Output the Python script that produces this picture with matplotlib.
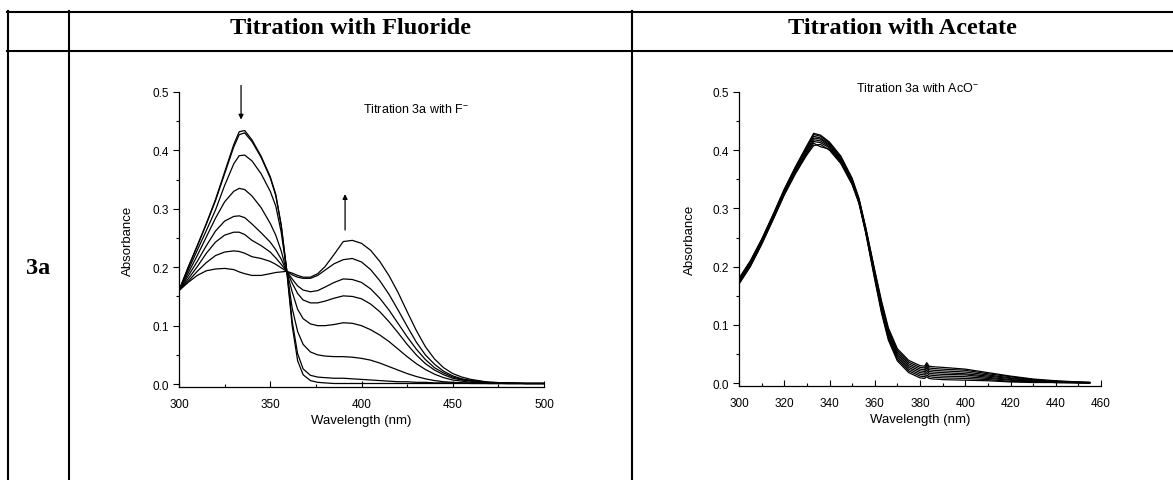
import numpy as np
import matplotlib
matplotlib.use("Agg")
import matplotlib.pyplot as plt
from matplotlib.lines import Line2D
from matplotlib.ticker import MultipleLocator

plt.rcParams["font.family"] = ["Liberation Sans", "DejaVu Sans"]
plt.rcParams["mathtext.fontset"] = "custom"
plt.rcParams["mathtext.rm"] = "Liberation Sans"
plt.rcParams["mathtext.it"] = "Liberation Sans"

# ---------------- data: titration with fluoride ----------------
wl_f = [300, 305, 310, 315, 320, 325, 330, 333, 336, 340, 345, 350, 353, 356, 359,
        362, 365, 368, 372, 376, 380, 385, 390, 395, 400, 405, 410, 415, 420, 425,
        430, 435, 440, 445, 450, 455, 460, 470, 480, 490, 500]

fluoride_0 = [.160, .200, .237, .275, .316, .363, .410, .432, .434, .418, .390, .355, .325, .272, .195,
              .100, .040, .016, .006, .003, .002, .001, .001, .001, .001, .001, .001, .001, .001, .001,
              .001, .001, .001, .001, .001, .001, .001, .001, .001, .001, .001]
fluoride_1 = [.160, .199, .236, .274, .314, .360, .406, .427, .430, .415, .388, .353, .323, .272, .196,
              .108, .052, .026, .015, .012, .011, .010, .010, .009, .008, .007, .006, .005, .004, .004,
              .003, .003, .002, .002, .002, .002, .001, .001, .001, .001, .001]
fluoride_2 = [.160, .195, .229, .263, .298, .340, .377, .391, .392, .382, .360, .330, .305, .260, .195,
              .130, .090, .068, .055, .050, .048, .047, .047, .046, .044, .041, .036, .030, .024, .018,
              .013, .009, .006, .004, .003, .002, .002, .001, .001, .001, .001]
fluoride_3 = [.160, .190, .220, .252, .284, .312, .330, .335, .333, .322, .302, .275, .255, .228, .193,
              .158, .128, .112, .103, .100, .100, .102, .105, .104, .100, .093, .084, .073, .060, .047,
              .035, .025, .017, .011, .007, .005, .003, .002, .001, .001, .001]
fluoride_4 = [.160, .185, .210, .237, .262, .279, .287, .288, .285, .274, .259, .243, .230, .214, .193,
              .173, .155, .144, .139, .139, .142, .147, .151, .150, .146, .137, .124, .107, .088, .068,
              .050, .035, .024, .016, .010, .007, .005, .002, .001, .001, .001]
fluoride_5 = [.160, .180, .201, .224, .243, .255, .260, .260, .256, .246, .237, .226, .216, .205, .193,
              .180, .168, .161, .158, .160, .166, .174, .180, .179, .174, .163, .147, .127, .104, .081,
              .060, .042, .028, .019, .012, .008, .006, .003, .002, .001, .001]
fluoride_6 = [.160, .176, .193, .208, .220, .226, .228, .227, .224, .218, .215, .210, .205, .199, .193,
              .187, .183, .181, .181, .186, .195, .206, .213, .215, .209, .196, .177, .154, .127, .099,
              .072, .050, .034, .022, .014, .009, .006, .003, .002, .001, .001]
fluoride_7 = [.160, .174, .186, .194, .197, .198, .196, .192, .189, .186, .186, .189, .191, .192, .193,
              .190, .186, .183, .183, .189, .201, .222, .244, .246, .241, .229, .210, .186, .157, .124,
              .092, .064, .043, .028, .018, .012, .008, .003, .002, .001, .001]

fluoride_series = [fluoride_0, fluoride_1, fluoride_2, fluoride_3,
                   fluoride_4, fluoride_5, fluoride_6, fluoride_7]

# ---------------- data: titration with acetate ----------------
wl_a = [300, 305, 310, 315, 320, 325, 330, 333, 336, 340, 345, 350, 353, 356, 360, 363,
        366, 370, 375, 380, 382, 383, 384, 386, 390, 400, 410, 420, 430, 440, 450, 455]

acetate_0 = [.170, .200, .238, .280, .323, .360, .392, .408, .410, .400, .377, .341, .309, .258, .178, .120,
             .074, .038, .018, .009, .008, .011, .008, .007, .006, .005, .004, .002, .001, .001, .000, .000]
acetate_1 = [.171, .201, .239, .281, .324, .361, .394, .412, .406, .402, .379, .342, .310, .259, .180, .123,
             .077, .041, .021, .012, .011, .014, .011, .010, .009, .008, .006, .003, .002, .001, .001, .000]
acetate_2 = [.173, .203, .241, .283, .326, .363, .396, .415, .413, .404, .381, .344, .311, .261, .183, .126,
             .080, .044, .024, .015, .014, .018, .014, .013, .012, .011, .008, .005, .003, .001, .001, .000]
acetate_3 = [.174, .204, .242, .284, .327, .365, .399, .418, .416, .406, .382, .345, .312, .262, .185, .129,
             .083, .047, .027, .018, .017, .022, .017, .016, .015, .014, .010, .006, .003, .002, .001, .001]
acetate_4 = [.176, .206, .244, .286, .329, .367, .401, .421, .419, .408, .384, .347, .314, .264, .188, .132,
             .086, .050, .030, .021, .020, .026, .020, .019, .018, .016, .012, .008, .004, .002, .001, .001]
acetate_5 = [.177, .207, .245, .287, .331, .369, .404, .424, .421, .410, .386, .348, .315, .265, .190, .135,
             .089, .053, .033, .024, .023, .029, .023, .022, .021, .019, .014, .009, .005, .003, .001, .001]
acetate_6 = [.179, .209, .246, .288, .332, .371, .406, .427, .424, .412, .388, .350, .316, .266, .192, .138,
             .092, .056, .036, .027, .026, .032, .026, .025, .024, .022, .016, .011, .006, .003, .002, .001]
acetate_7 = [.180, .210, .247, .289, .333, .372, .408, .429, .426, .414, .390, .352, .318, .268, .194, .141,
             .095, .059, .039, .030, .029, .035, .029, .028, .027, .024, .018, .012, .007, .004, .002, .001]

acetate_series = [acetate_0, acetate_1, acetate_2, acetate_3,
                  acetate_4, acetate_5, acetate_6, acetate_7]

W, H = 1173, 481
fig = plt.figure(figsize=(W / 100, H / 100), dpi=100)


def px_axes(x0, y0, x1, y1):
    """Axes from pixel box (top-left origin)."""
    return fig.add_axes([x0 / W, 1 - y1 / H, (x1 - x0) / W, (y1 - y0) / H])


def style_axes(ax, xmajor, xminor, xmax):
    for s in ["top", "right"]:
        ax.spines[s].set_visible(False)
    for s in ["left", "bottom"]:
        ax.spines[s].set_linewidth(0.9)
    ax.set_xlim(300, xmax)
    ax.set_ylim(-0.005, 0.5)
    ax.xaxis.set_major_locator(MultipleLocator(xmajor))
    ax.xaxis.set_minor_locator(MultipleLocator(xminor))
    ax.yaxis.set_major_locator(MultipleLocator(0.1))
    ax.yaxis.set_minor_locator(MultipleLocator(0.05))
    ax.tick_params(axis="y", which="major", direction="out", length=4, width=0.8, labelsize=8.5, pad=3)
    ax.tick_params(axis="y", which="minor", direction="out", length=2.5, width=0.8)
    ax.tick_params(axis="x", which="major", direction="in", length=4, width=0.8, labelsize=8.5, pad=8)
    ax.tick_params(axis="x", which="minor", direction="in", length=2.5, width=0.8)
    ax.set_yticks([0.0, 0.1, 0.2, 0.3, 0.4, 0.5])
    ax.set_yticklabels(["0.0", "0.1", "0.2", "0.3", "0.4", "0.5"])
    ax.set_xlabel("Wavelength (nm)", fontsize=9.5)
    ax.set_ylabel("Absorbance", fontsize=9.5)


# left plot: fluoride
ax1 = px_axes(179, 93, 544, 388)
for ys in fluoride_series:
    ax1.plot(wl_f, ys, color="black", lw=0.9)
style_axes(ax1, 50, 25, 500)
ax1.yaxis.set_label_coords(-0.123, 0.5)
ax1.xaxis.set_label_coords(0.5, -0.092)
ax1.annotate("", xy=(334, 0.448), xytext=(334, 0.516),
             arrowprops=dict(arrowstyle="-|>", color="black", lw=0.9, mutation_scale=7),
             annotation_clip=False)
ax1.annotate("", xy=(391, 0.33), xytext=(391, 0.259),
             arrowprops=dict(arrowstyle="-|>", color="black", lw=0.9, mutation_scale=7))
ax1.text(401, 0.471, "Titration 3a with F$^{-}$", fontsize=9, va="center", ha="left")

# right plot: acetate
ax2 = px_axes(739, 93, 1101, 387)
for ys in acetate_series:
    ax2.plot(wl_a, ys, color="black", lw=0.9)
style_axes(ax2, 20, 10, 460)
ax2.yaxis.set_label_coords(-0.119, 0.5)
ax2.xaxis.set_label_coords(0.5, -0.092)
ax2.text(379, 0.507, "Titration 3a with AcO$^{-}$", fontsize=9, va="center", ha="center",
         clip_on=False)

# ---------------- table frame ----------------
def hline(y, x0, x1):
    fig.add_artist(Line2D([x0 / W, x1 / W], [1 - y / H, 1 - y / H], color="black", lw=1.5))


def vline(x, y0, y1):
    fig.add_artist(Line2D([x / W, x / W], [1 - y0 / H, 1 - y1 / H], color="black", lw=1.5))


hline(13, 7, W)
hline(52, 7, W)
vline(8, 12, H)
vline(69, 12, H)
vline(632, 12, H)

serif = ["Liberation Serif", "DejaVu Serif"]
fig.text(350 / W, 1 - 34 / H, "Titration with Fluoride", family=serif, weight="bold",
         fontsize=17.5, ha="center", va="baseline")
fig.text(902 / W, 1 - 34 / H, "Titration with Acetate", family=serif, weight="bold",
         fontsize=17.5, ha="center", va="baseline")
fig.text(38 / W, 1 - 268 / H, "3a", family=serif, weight="bold",
         fontsize=17.5, ha="center", va="center")

fig.savefig("out.png", dpi=100)
